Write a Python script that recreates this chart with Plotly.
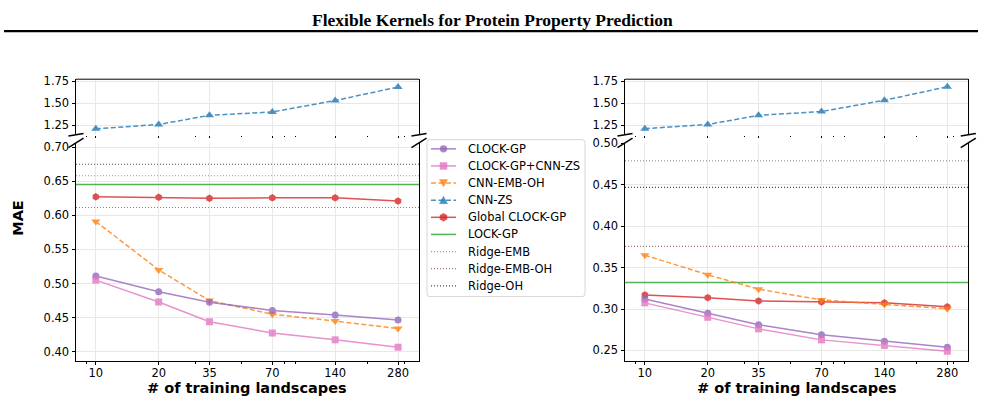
import plotly.graph_objects as go

# ---------------- data ----------------
title_text = "Flexible Kernels for Protein Property Prediction"
n_train = [10, 20, 35, 70, 140, 280]
tick_text = ["10", "20", "35", "70", "140", "280"]
minor_ticks = [9, 30, 50, 80, 90, 200, 300]

series_names = ["CLOCK-GP", "CLOCK-GP+CNN-ZS", "CNN-EMB-OH", "CNN-ZS",
                "Global CLOCK-GP", "LOCK-GP", "Ridge-EMB", "Ridge-EMB-OH", "Ridge-OH"]

# left panel
L_clock = [0.511, 0.488, 0.4725, 0.4605, 0.454, 0.4467]
L_clock_cnn = [0.505, 0.473, 0.444, 0.4275, 0.4175, 0.4067]
L_cnn_emb_oh = [0.591, 0.520, 0.475, 0.455, 0.445, 0.434]
L_cnn_zs = [1.209, 1.258, 1.362, 1.400, 1.530, 1.683]
L_global = [0.6272, 0.6265, 0.6249, 0.6258, 0.6258, 0.6210]
L_lock = 0.6451
L_ridge_emb = 0.6581
L_ridge_emb_oh = 0.6115
L_ridge_oh = 0.6749

# right panel
R_clock = [0.3121, 0.2949, 0.281, 0.2688, 0.261, 0.2539]
R_clock_cnn = [0.3074, 0.290, 0.276, 0.2627, 0.256, 0.249]
R_cnn_emb_oh = [0.365, 0.3413, 0.324, 0.311, 0.3055, 0.3004]
R_cnn_zs = [1.21, 1.258, 1.362, 1.405, 1.533, 1.686]
R_global = [0.317, 0.3136, 0.3098, 0.3086, 0.3074, 0.3027]
R_lock = 0.332
R_ridge_emb = 0.479
R_ridge_emb_oh = 0.3757
R_ridge_oh = 0.447

# ---------------- style ----------------
W, H = 985, 401
FONT = "DejaVu Sans"
GRID = "#e8e8e8"
X_RANGE = [0.905, 2.5475]
x_edges = [10 ** X_RANGE[0], 10 ** X_RANGE[1]]
DASH = "5px,2.5px"
DOT = "1px,2px"

styles = {
    "CLOCK-GP": dict(color="#9467bd", dash="solid", symbol="circle", size=7),
    "CLOCK-GP+CNN-ZS": dict(color="#e377c2", dash="solid", symbol="square", size=7),
    "CNN-EMB-OH": dict(color="#ff7f0e", dash=DASH, symbol="triangle-down", size=8),
    "CNN-ZS": dict(color="#1f77b4", dash=DASH, symbol="triangle-up", size=8),
    "Global CLOCK-GP": dict(color="#d62728", dash="solid", symbol="hexagon", size=7.5),
    "LOCK-GP": dict(color="#2ca02c", dash="solid", symbol=None),
    "Ridge-EMB": dict(color="#7f7f7f", dash=DOT, symbol=None),
    "Ridge-EMB-OH": dict(color="#8c564b", dash=DOT, symbol=None),
    "Ridge-OH": dict(color="#222222", dash=DOT, symbol=None),
}

fig = go.Figure()


def add_series(name, xs, ys, xa, ya):
    st = styles[name]
    fig.add_trace(go.Scatter(
        x=xs, y=ys, name=name, xaxis=xa, yaxis=ya,
        mode="lines+markers",
        line=dict(color=st["color"], width=1.5, dash=st["dash"]),
        marker=dict(symbol=st["symbol"], size=st["size"], color=st["color"]),
        opacity=0.8, showlegend=False,
    ))


def add_hline(name, val, xa, ya):
    st = styles[name]
    width = 1.5 if name == "LOCK-GP" else 1.2
    fig.add_trace(go.Scatter(
        x=x_edges, y=[val, val], name=name, xaxis=xa, yaxis=ya,
        mode="lines", line=dict(color=st["color"], width=width, dash=st["dash"]),
        opacity=0.8, showlegend=False,
    ))


panels = [
    ("x", "y", "x2", "y2",
     dict(clock=L_clock, clock_cnn=L_clock_cnn, emb_oh=L_cnn_emb_oh, zs=L_cnn_zs, glob=L_global,
          lock=L_lock, r_emb=L_ridge_emb, r_emb_oh=L_ridge_emb_oh, r_oh=L_ridge_oh)),
    ("x3", "y3", "x4", "y4",
     dict(clock=R_clock, clock_cnn=R_clock_cnn, emb_oh=R_cnn_emb_oh, zs=R_cnn_zs, glob=R_global,
          lock=R_lock, r_emb=R_ridge_emb, r_emb_oh=R_ridge_emb_oh, r_oh=R_ridge_oh)),
]

for xb, yb, xt, yt, d in panels:
    add_hline("Ridge-EMB", d["r_emb"], xb, yb)
    add_hline("Ridge-EMB-OH", d["r_emb_oh"], xb, yb)
    add_hline("Ridge-OH", d["r_oh"], xb, yb)
    add_hline("LOCK-GP", d["lock"], xb, yb)
    add_series("Global CLOCK-GP", n_train, d["glob"], xb, yb)
    add_series("CNN-EMB-OH", n_train, d["emb_oh"], xb, yb)
    add_series("CLOCK-GP", n_train, d["clock"], xb, yb)
    add_series("CLOCK-GP+CNN-ZS", n_train, d["clock_cnn"], xb, yb)
    add_series("CNN-ZS", n_train, d["zs"], xt, yt)

# ---------------- axes ----------------
xL = [76 / W, 419 / W]
xR = [625 / W, 968.3 / W]
yTop = [1 - 130.7 / H, 1 - 74.3 / H]
yBot = [1 - 360.3 / H, 1 - 139 / H]

tickfont = dict(family=FONT, size=11.5, color="black")


def xaxis(domain, anchor, bottom):
    return dict(
        domain=domain, anchor=anchor, type="log", range=X_RANGE,
        tickmode="array", tickvals=n_train, ticktext=tick_text,
        showticklabels=bottom, ticks="outside", ticklen=3.5 if bottom else 2,
        tickcolor="black", tickwidth=1, ticklabelstandoff=-2,
        minor=dict(tickmode="array", tickvals=minor_ticks, ticks="outside",
                   ticklen=2 if bottom else 1.5, tickcolor="black", showgrid=False),
        showline=bottom, linecolor="black", linewidth=1, mirror=False,
        showgrid=True, gridcolor=GRID, gridwidth=1, zeroline=False,
        tickfont=tickfont,
    )


def yaxis(domain, anchor, rng, tv):
    return dict(
        domain=domain, anchor=anchor, range=rng,
        tickmode="array", tickvals=tv, ticktext=[f"{v:.2f}" for v in tv],
        ticks="outside", ticklen=3.5, tickcolor="black",
        showline=True, linecolor="black", linewidth=1, mirror=True,
        showgrid=True, gridcolor=GRID, gridwidth=1, zeroline=False,
        tickfont=tickfont,
    )


top_ticks = [1.25, 1.50, 1.75]
fig.update_layout(
    xaxis=xaxis(xL, "y", True),
    yaxis=yaxis(yBot, "x", [0.3866, 0.7062], [0.40, 0.45, 0.50, 0.55, 0.60, 0.65, 0.70]),
    xaxis2=xaxis(xL, "y2", False),
    yaxis2=yaxis(yTop, "x2", [1.1415, 1.772], top_ticks),
    xaxis3=xaxis(xR, "y3", True),
    yaxis3=yaxis(yBot, "x3", [0.2373, 0.5006], [0.25, 0.30, 0.35, 0.40, 0.45, 0.50]),
    xaxis4=xaxis(xR, "y4", False),
    yaxis4=yaxis(yTop, "x4", [1.1415, 1.772], top_ticks),
)

# ---------------- shapes: top spines, break marks, title rule ----------------
shapes = []
d = 0.022
for xa, ya in [("x2", "y2"), ("x4", "y4")]:
    shapes.append(dict(type="line", xref=f"{xa} domain", yref=f"{ya} domain",
                       x0=0, x1=1, y0=1, y1=1, line=dict(color="black", width=1)))
    for cx in (0, 1):
        shapes.append(dict(type="line", xref=f"{xa} domain", yref=f"{ya} domain",
                           x0=cx - d, x1=cx + d, y0=-d, y1=d,
                           line=dict(color="black", width=1.5)))
for xa, ya in [("x", "y"), ("x3", "y3")]:
    for cx in (0, 1):
        shapes.append(dict(type="line", xref=f"{xa} domain", yref=f"{ya} domain",
                           x0=cx - d, x1=cx + d, y0=1 - d, y1=1 + d,
                           line=dict(color="black", width=1.5)))
shapes.append(dict(type="line", xref="paper", yref="paper",
                   x0=4 / W, x1=978 / W, y0=1 - 25.5 / H, y1=1 - 25.5 / H,
                   line=dict(color="black", width=2.2)))


# ---------------- legend (drawn as a decoration, matplotlib-like spacing) ----------------
def px(x):
    return x / W


def py(y):
    return 1 - y / H


def rounded_rect(x0, y0, x1, y1, r):
    return (f"M {px(x0 + r)} {py(y0)} L {px(x1 - r)} {py(y0)} "
            f"Q {px(x1)} {py(y0)} {px(x1)} {py(y0 + r)} L {px(x1)} {py(y1 - r)} "
            f"Q {px(x1)} {py(y1)} {px(x1 - r)} {py(y1)} L {px(x0 + r)} {py(y1)} "
            f"Q {px(x0)} {py(y1)} {px(x0)} {py(y1 - r)} L {px(x0)} {py(y0 + r)} "
            f"Q {px(x0)} {py(y0)} {px(x0 + r)} {py(y0)} Z")


def poly(points):
    return "M " + " L ".join(f"{px(a)} {py(b)}" for a, b in points) + " Z"


shapes.append(dict(type="path", xref="paper", yref="paper",
                   path=rounded_rect(427, 135.7, 585, 295, 3),
                   fillcolor="white", line=dict(color="#d6d6d6", width=1)))

LEG_Y0, LEG_DY = 145, 17.38
LX0, LX1, LXT = 431, 456, 465.7
legend_annots = []
for i, name in enumerate(series_names):
    st = styles[name]
    yc = LEG_Y0 + LEG_DY * i
    lw = 1.5 if st["symbol"] or name == "LOCK-GP" else 1.2
    shapes.append(dict(type="line", xref="paper", yref="paper",
                       x0=px(LX0), x1=px(LX1), y0=py(yc), y1=py(yc), opacity=0.8,
                       line=dict(color=st["color"], width=lw, dash=st["dash"])))
    cx = (LX0 + LX1) / 2
    sym = st["symbol"]
    mk = dict(xref="paper", yref="paper", fillcolor=st["color"], opacity=0.8,
              line=dict(color=st["color"], width=0.5))
    if sym == "circle":
        r = 3.5
        shapes.append(dict(type="circle", x0=px(cx - r), x1=px(cx + r),
                           y0=py(yc - r), y1=py(yc + r), **mk))
    elif sym == "square":
        r = 3.5
        shapes.append(dict(type="rect", x0=px(cx - r), x1=px(cx + r),
                           y0=py(yc - r), y1=py(yc + r), **mk))
    elif sym == "triangle-up":
        shapes.append(dict(type="path", path=poly([(cx - 4, yc + 3.5), (cx + 4, yc + 3.5), (cx, yc - 4)]), **mk))
    elif sym == "triangle-down":
        shapes.append(dict(type="path", path=poly([(cx - 4, yc - 3.5), (cx + 4, yc - 3.5), (cx, yc + 4)]), **mk))
    elif sym == "hexagon":
        shapes.append(dict(type="path", path=poly([(cx, yc - 4), (cx + 3.5, yc - 2), (cx + 3.5, yc + 2),
                                                   (cx, yc + 4), (cx - 3.5, yc + 2), (cx - 3.5, yc - 2)]), **mk))
    legend_annots.append(dict(text=name, xref="paper", yref="paper", x=px(LXT), y=py(yc),
                              xanchor="left", yanchor="middle", showarrow=False,
                              font=dict(family=FONT, size=11.5, color="black")))

annotations = [
    dict(text=title_text, xref="paper", yref="paper", x=492 / W, y=1 - 14 / H,
         xanchor="center", yanchor="middle", showarrow=False,
         font=dict(family="Liberation Serif", size=17.5, color="black", weight="bold")),
    dict(text="MAE", xref="paper", yref="paper", x=18 / W, y=1 - 215 / H,
         xanchor="center", yanchor="middle", showarrow=False, textangle=-90,
         font=dict(family=FONT, size=14.5, color="black", weight="bold")),
    dict(text="# of training landscapes", xref="paper", yref="paper",
         x=(xL[0] + xL[1]) / 2, y=1 - 387.5 / H, xanchor="center", yanchor="middle",
         showarrow=False, font=dict(family=FONT, size=14.5, color="black", weight="bold")),
    dict(text="# of training landscapes", xref="paper", yref="paper",
         x=(xR[0] + xR[1]) / 2, y=1 - 387.5 / H, xanchor="center", yanchor="middle",
         showarrow=False, font=dict(family=FONT, size=14.5, color="black", weight="bold")),
] + legend_annots

fig.update_layout(
    width=W, height=H, margin=dict(l=0, r=0, t=0, b=0, pad=0),
    paper_bgcolor="white", plot_bgcolor="white",
    font=dict(family=FONT, size=11, color="black"),
    shapes=shapes, annotations=annotations, showlegend=False,
)

fig.write_html("out.html")
